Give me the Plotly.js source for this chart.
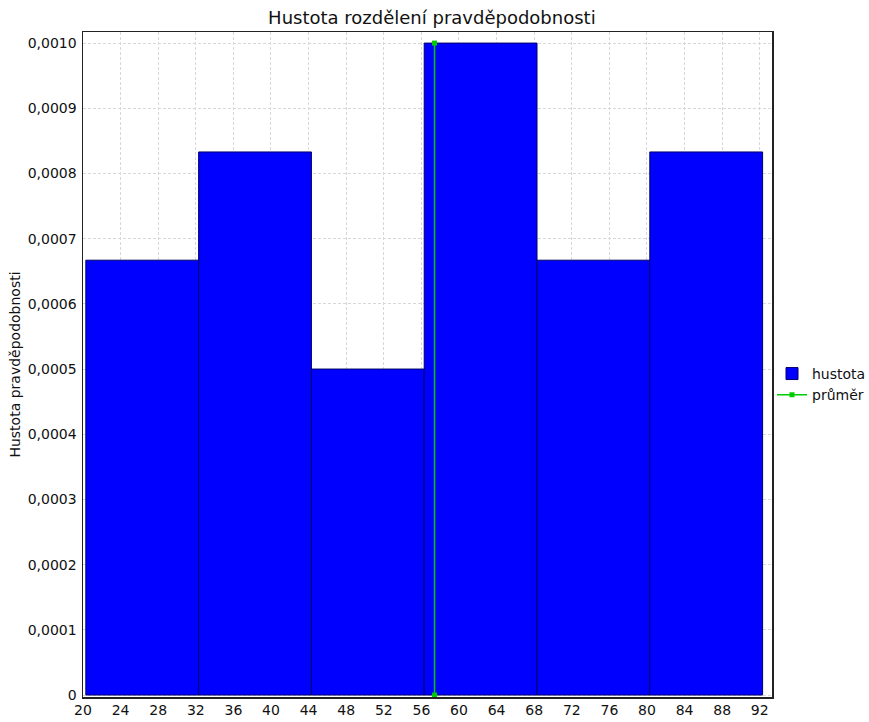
<!DOCTYPE html>
<html>
<head>
<meta charset="utf-8">
<script src="https://cdn.plot.ly/plotly-3.0.1.min.js"></script>
<style>html,body{margin:0;padding:0;background:#fff;}#chart{width:869px;height:722px;}</style>
</head>
<body>
<div id="chart"></div>
<script>
// Histogram bins (lower edges, width) and densities
const binStarts = [20.3, 32.3, 44.3, 56.3, 68.3, 80.3];
const binWidth = 12;
const densities = [0.000667, 0.000833, 0.0005, 0.001, 0.000667, 0.000833];
const meanValue = 57.4;
const meanLineY = [0, 0.001];
const xTicks = [20, 24, 28, 32, 36, 40, 44, 48, 52, 56, 60, 64, 68, 72, 76, 80, 84, 88, 92];
const yTickVals = [0, 0.0001, 0.0002, 0.0003, 0.0004, 0.0005, 0.0006, 0.0007, 0.0008, 0.0009, 0.0010];
const yTickLabels = ['0', '0,0001', '0,0002', '0,0003', '0,0004', '0,0005', '0,0006', '0,0007', '0,0008', '0,0009', '0,0010'];

const font = 'DejaVu Sans, Verdana, sans-serif';
const binCenters = binStarts.map(s => s + binWidth / 2);

const traces = [
  {
    type: 'bar',
    name: 'hustota',
    x: binCenters,
    y: densities,
    width: binStarts.map(() => binWidth),
    marker: {color: '#0000ff', line: {color: '#000066', width: 1}},
    hoverinfo: 'x+y'
  },
  {
    type: 'scatter',
    mode: 'lines+markers',
    name: 'průměr',
    x: [meanValue, meanValue],
    y: meanLineY,
    line: {color: '#00cc00', width: 1.5},
    marker: {color: '#00cc00', symbol: 'square', size: 5}
  }
];

const layout = {
  width: 869,
  height: 722,
  paper_bgcolor: '#ffffff',
  plot_bgcolor: '#ffffff',
  margin: {l: 83, r: 97, t: 32, b: 25, pad: 0, autoexpand: false},
  font: {family: font, size: 14, color: '#222'},
  title: {text: 'Hustota rozdělení pravděpodobnosti', font: {family: font, size: 18, color: '#111'}, x: 0.497, xanchor: 'center', y: 0.975, yanchor: 'middle'},
  showlegend: true,
  legend: {x: 1.0, xanchor: 'left', y: 0.47, yanchor: 'middle', font: {family: font, size: 14, color: '#111'}, bgcolor: 'rgba(0,0,0,0)', tracegroupgap: 2, itemwidth: 30},
  bargap: 0,
  xaxis: {
    range: [20, 93.3],
    tickvals: xTicks,
    ticktext: xTicks.map(String),
    showgrid: true,
    gridcolor: '#d8d8d8',
    griddash: '3px,2px',
    gridwidth: 1,
    zeroline: false,
    showline: true,
    linecolor: '#222',
    linewidth: 1.5,
    mirror: true,
    ticks: '',
    tickfont: {family: font, size: 14, color: '#111'}
  },
  yaxis: {
    range: [-0.000003, 0.001017],
    tickvals: yTickVals,
    ticktext: yTickLabels,
    showgrid: true,
    gridcolor: '#d8d8d8',
    griddash: '3px,2px',
    gridwidth: 1,
    zeroline: false,
    showline: true,
    linecolor: '#222',
    linewidth: 1.5,
    mirror: true,
    ticks: '',
    ticklabelstandoff: 2,
    tickfont: {family: font, size: 14, color: '#111'},
    title: {text: 'Hustota pravděpodobnosti', font: {family: font, size: 14, color: '#111'}, standoff: 4}
  }
};

Plotly.newPlot('chart', traces, layout, {displayModeBar: false, staticPlot: true});
</script>
</body>
</html>
